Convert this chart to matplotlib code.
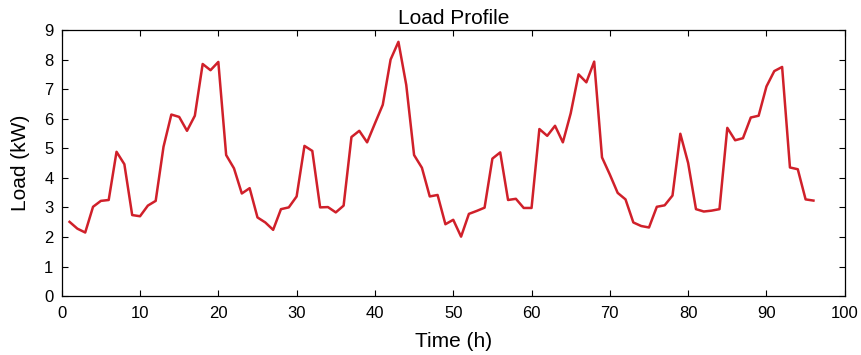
import numpy as np
import matplotlib
matplotlib.use('Agg')
import matplotlib.pyplot as plt

plt.rcParams['font.family'] = ['Liberation Sans', 'DejaVu Sans']

# 時刻 (h) と負荷 (kW)
hours = list(range(1, 97))
load_kw = [
    2.51, 2.28, 2.15, 3.02, 3.22, 3.25, 4.88, 4.46, 2.74, 2.70,
    3.06, 3.22, 5.05, 6.14, 6.06, 5.59, 6.10, 7.85, 7.64, 7.92,
    4.77, 4.32, 3.47, 3.65, 2.66, 2.49, 2.24, 2.94, 3.00, 3.37,
    5.08, 4.91, 3.00, 3.01, 2.83, 3.06, 5.38, 5.59, 5.20, 5.84,
    6.47, 8.00, 8.60, 7.14, 4.77, 4.34, 3.37, 3.42, 2.43, 2.58,
    2.01, 2.78, 2.88, 2.99, 4.65, 4.86, 3.25, 3.29, 2.98, 2.98,
    5.65, 5.42, 5.76, 5.20, 6.18, 7.50, 7.23, 7.93, 4.69, 4.11,
    3.49, 3.27, 2.49, 2.37, 2.32, 3.02, 3.07, 3.40, 5.49, 4.50,
    2.94, 2.86, 2.89, 2.94, 5.69, 5.27, 5.34, 6.04, 6.10, 7.09,
    7.61, 7.75, 4.35, 4.29, 3.27, 3.23,
]

fig = plt.figure(figsize=(8.62, 3.55), dpi=100)
ax = fig.add_axes([0.0716, 0.166, 0.9084, 0.7495])

ax.plot(hours, load_kw, color='#d0202a', lw=1.8)

ax.set_xlim(0, 100)
ax.set_ylim(0, 9)
ax.set_xticks(np.arange(0, 101, 10))
ax.set_yticks(np.arange(0, 10, 1))
ax.tick_params(direction='in', top=True, right=True, length=4, width=0.8,
               labelsize=12)
ax.tick_params(axis='x', pad=7)
ax.tick_params(axis='y', pad=6)
for sp in ax.spines.values():
    sp.set_linewidth(0.9)

ax.set_title('Load Profile', fontsize=15, pad=4)
ax.set_xlabel('Time (h)', fontsize=15, labelpad=8)
ax.set_ylabel('Load (kW)', fontsize=15, labelpad=10)

fig.savefig('out.png', dpi=100)
